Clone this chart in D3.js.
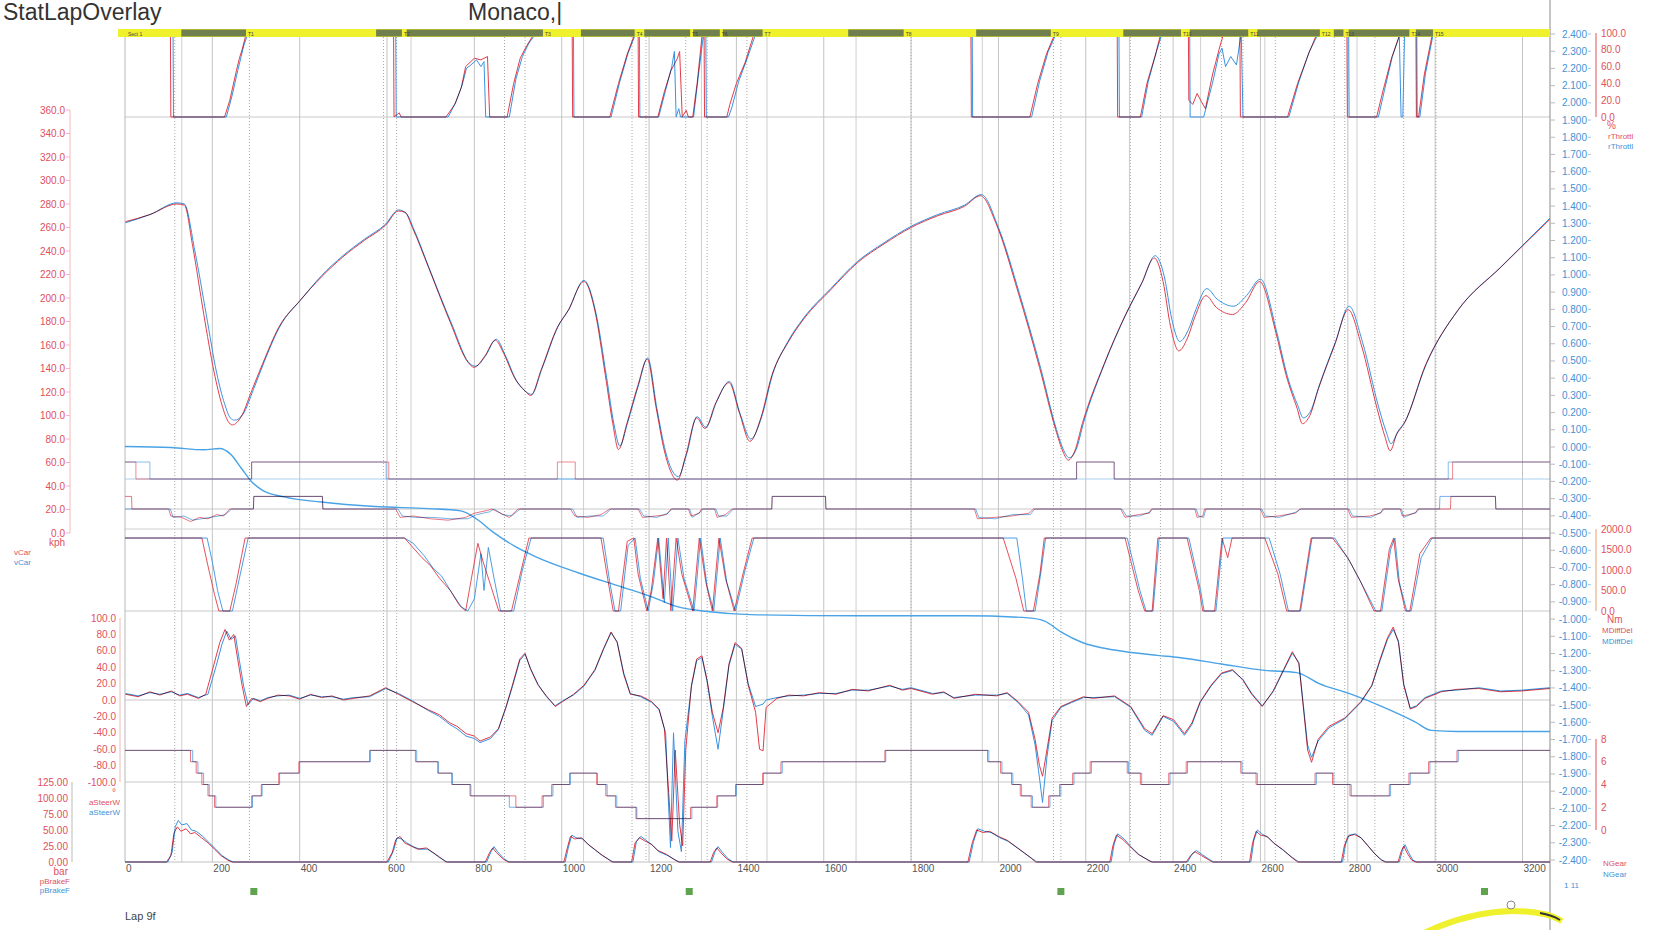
<!DOCTYPE html>
<html><head><meta charset="utf-8">
<script src="https://cdn.jsdelivr.net/npm/d3@7"></script>
<style>
body{margin:0;background:#fff;overflow:hidden}
svg{display:block;font-family:"Liberation Sans",Arial,sans-serif}
.blend{mix-blend-mode:multiply}
</style></head><body>
<svg id="c" width="1680" height="930"></svg>
<script>
// ---------- DATA ----------
const xTicks = [0,200,400,600,800,1000,1200,1400,1600,1800,2000,2200,2400,2600,2800,3000,3200];
const speedTicks = [0,20,40,60,80,100,120,140,160,180,200,220,240,260,280,300,320,340,360];
const steerTicks = [-100,-80,-60,-40,-20,0,20,40,60,80,100];
const brakeTicks = [0,25,50,75,100,125];
const thrTicks = [0,20,40,60,80,100];
const diffTicks = [0,500,1000,1500,2000];
const gearTicks = [0,2,4,6,8];

const speedRed = [[1,265],[57,271],[119,280],[136,279],[155,244],[180,187],[204,137],[222,109],[236,95],[246,92],[266,99],[290,121],[315,144],[352,175],[401,198],[450,218],[499,235],[548,249],[597,262],[626,274],[641,273],[658,260],[695,226],[744,180],[786,145],[799,141],[823,150],[848,164],[867,153],[892,132],[916,121],[929,117],[953,139],[990,175],[1014,189],[1051,214],[1076,189],[1100,134],[1117,93],[1130,71],[1149,93],[1174,125],[1196,148],[1216,107],[1235,70],[1250,52],[1265,45],[1284,66],[1309,98],[1328,89],[1353,111],[1383,128],[1407,102],[1431,78],[1456,98],[1481,134],[1518,162],[1554,182],[1616,207],[1677,230],[1738,246],[1800,260],[1861,270],[1922,278],[1959,287],[1996,262],[2045,205],[2094,141],[2131,88],[2148,69],[2160,62],[2175,70],[2192,93],[2241,143],[2290,185],[2327,212],[2357,234],[2377,214],[2394,176],[2413,155],[2433,166],[2450,184],[2475,202],[2499,192],[2536,186],[2566,196],[2598,214],[2635,171],[2659,134],[2684,106],[2696,93],[2713,100],[2733,123],[2770,160],[2801,190],[2831,160],[2867,106],[2885,82],[2897,70],[2912,84],[2929,93],[2978,143],[3051,189],[3150,226],[3263,267]];
const speedBlue = [[1,264],[57,271],[119,281],[136,280],[160,240],[186,186],[210,136],[228,110],[241,98],[251,96],[270,101],[294,122],[318,145],[355,176],[404,199],[450,219],[499,236],[548,250],[597,263],[626,275],[644,272],[662,258],[698,224],[748,178],[790,144],[803,142],[826,151],[850,165],[870,152],[896,130],[919,120],[931,118],[955,140],[992,176],[1016,190],[1051,215],[1078,188],[1103,132],[1120,92],[1133,74],[1151,94],[1176,126],[1197,149],[1218,106],[1238,69],[1253,53],[1267,48],[1286,67],[1310,99],[1330,90],[1355,112],[1384,129],[1409,101],[1433,80],[1458,99],[1483,135],[1518,163],[1554,183],[1616,208],[1677,231],[1738,247],[1800,261],[1861,271],[1922,279],[1961,288],[2000,260],[2048,204],[2097,140],[2133,88],[2150,70],[2162,64],[2178,71],[2195,94],[2243,144],[2292,186],[2329,213],[2359,236],[2380,218],[2397,182],[2415,163],[2435,173],[2452,190],[2477,208],[2501,199],[2538,193],[2568,202],[2600,216],[2638,170],[2662,133],[2686,108],[2698,98],[2715,104],[2735,126],[2772,163],[2803,193],[2834,162],[2870,108],[2888,86],[2899,76],[2914,86],[2931,95],[2980,144],[3053,190],[3152,227],[3263,268]];

const deltaBlue = [[0,0.003],[106,-0.003],[180,-0.016],[217,-0.009],[241,-0.04],[266,-0.122],[290,-0.202],[315,-0.252],[364,-0.29],[450,-0.32],[573,-0.346],[695,-0.358],[769,-0.371],[806,-0.42],[843,-0.495],[892,-0.576],[941,-0.638],[1039,-0.732],[1137,-0.813],[1211,-0.875],[1260,-0.925],[1334,-0.956],[1432,-0.974],[1677,-0.981],[1922,-0.981],[2069,-0.993],[2106,-1.012],[2143,-1.074],[2192,-1.136],[2266,-1.18],[2364,-1.211],[2413,-1.223],[2511,-1.261],[2609,-1.298],[2683,-1.311],[2733,-1.373],[2806,-1.435],[2880,-1.51],[2954,-1.597],[2991,-1.647],[3051,-1.653],[3263,-1.653]];

const thrRed = [[0,100],[104,100],[105,0],[228,0],[240,20],[255,55],[262,70],[268,80],[278,100],[615,100],[616,0],[628,5],[632,0],[735,0],[755,15],[770,35],[780,60],[790,65],[800,70],[815,68],[830,72],[835,0],[875,0],[890,40],[905,70],[920,85],[938,100],[1024,100],[1025,0],[1110,0],[1130,40],[1150,75],[1168,100],[1175,100],[1176,0],[1220,0],[1235,30],[1250,55],[1265,70],[1270,78],[1276,0],[1285,8],[1290,0],[1300,0],[1310,40],[1322,100],[1326,100],[1327,0],[1378,0],[1385,15],[1400,40],[1420,65],[1441,100],[1937,100],[1938,0],[2072,0],[2090,40],[2110,75],[2130,100],[2272,100],[2273,0],[2325,0],[2340,40],[2360,75],[2372,100],[2435,100],[2436,20],[2445,15],[2455,28],[2465,18],[2474,10],[2490,50],[2505,80],[2516,100],[2553,100],[2554,0],[2662,0],[2685,40],[2710,75],[2730,100],[2798,100],[2799,0],[2866,0],[2880,30],[2900,70],[2920,100],[2956,100],[2957,0],[2962,0],[2975,50],[2994,100],[3263,100]];
const thrBlue = [[0,100],[110,100],[111,0],[232,0],[245,25],[258,55],[266,72],[272,85],[282,100],[620,100],[621,0],[740,0],[758,18],[772,38],[782,58],[792,62],[805,68],[815,60],[822,66],[826,0],[880,0],[895,45],[910,72],[925,88],[942,100],[1027,100],[1028,0],[1113,0],[1133,42],[1152,76],[1170,100],[1178,100],[1179,0],[1222,0],[1238,32],[1252,60],[1258,78],[1262,0],[1268,10],[1272,0],[1302,0],[1312,45],[1325,100],[1330,100],[1331,0],[1382,0],[1390,12],[1405,42],[1425,70],[1445,100],[1940,100],[1941,0],[2076,0],[2094,42],[2114,78],[2133,100],[2276,100],[2277,0],[2328,0],[2343,42],[2362,78],[2375,100],[2438,100],[2439,0],[2470,0],[2490,40],[2505,75],[2512,82],[2520,60],[2532,72],[2545,62],[2556,100],[2560,0],[2665,0],[2688,42],[2712,78],[2733,100],[2802,100],[2803,0],[2870,0],[2884,32],[2902,72],[2918,96],[2922,0],[2926,0],[2930,100],[2958,100],[2959,0],[2965,0],[2978,52],[2996,100],[3263,100]];

const steerRed = [[1,7],[30,4],[57,10],[80,6],[106,11],[125,5],[143,7],[168,2],[185,7],[204,44],[217,70],[229,86],[239,73],[249,80],[258,50],[268,18],[278,-8],[290,2],[310,-2],[327,2],[350,6],[376,5],[400,1],[425,7],[450,3],[474,5],[500,0],[524,2],[560,5],[597,15],[626,7],[658,-2],[695,-12],[720,-18],[744,-28],[760,-32],[781,-41],[800,-44],[813,-50],[837,-45],[855,-35],[872,-9],[887,18],[904,50],[916,57],[929,37],[946,18],[965,5],[985,-8],[1002,-2],[1027,7],[1051,18],[1076,37],[1096,63],[1113,83],[1127,70],[1142,31],[1157,7],[1181,5],[1206,-2],[1223,-11],[1235,-35],[1245,-113],[1252,-172],[1260,-61],[1270,-152],[1277,-178],[1284,-61],[1297,18],[1309,50],[1321,54],[1333,24],[1345,-15],[1358,-40],[1370,-9],[1383,44],[1397,70],[1412,63],[1427,18],[1444,-15],[1453,-60],[1461,-62],[1468,-9],[1493,2],[1520,6],[1554,5],[1590,9],[1628,7],[1665,13],[1702,11],[1751,18],[1780,12],[1800,14],[1849,7],[1875,10],[1898,2],[1947,7],[1996,5],[2020,9],[2045,-2],[2069,-15],[2084,-48],[2094,-80],[2101,-93],[2111,-61],[2123,-22],[2143,-8],[2168,-2],[2195,4],[2217,2],[2266,5],[2303,-8],[2335,-35],[2352,-41],[2377,-19],[2401,-24],[2426,-41],[2443,-28],[2462,-2],[2487,18],[2511,33],[2536,37],[2560,24],[2580,7],[2604,-8],[2629,11],[2653,37],[2673,59],[2688,44],[2698,-8],[2708,-61],[2717,-76],[2732,-48],[2757,-32],[2793,-22],[2830,-2],[2855,18],[2874,50],[2891,76],[2904,89],[2916,70],[2928,18],[2943,-11],[2957,-8],[2977,2],[3014,10],[3050,13],[3100,14],[3150,10],[3198,11],[3263,14]];
const steerBlue = [[1,8],[30,5],[57,9],[80,7],[106,10],[125,6],[143,8],[168,3],[190,7],[209,42],[222,68],[233,84],[243,74],[253,78],[262,48],[272,16],[282,-6],[294,2],[310,-1],[327,3],[350,5],[376,6],[400,2],[425,6],[450,4],[474,4],[500,1],[524,3],[560,4],[597,14],[626,8],[658,-1],[695,-13],[720,-20],[744,-30],[760,-35],[781,-44],[800,-47],[813,-52],[837,-47],[855,-36],[872,-10],[887,16],[904,48],[916,56],[929,38],[946,19],[965,4],[985,-7],[1002,-1],[1027,6],[1051,17],[1076,36],[1096,62],[1113,82],[1127,71],[1142,33],[1157,8],[1181,4],[1206,-3],[1223,-12],[1238,-40],[1242,-95],[1249,-180],[1256,-40],[1266,-160],[1274,-185],[1282,-50],[1297,16],[1309,48],[1321,52],[1333,22],[1345,-20],[1358,-60],[1370,-12],[1383,42],[1397,68],[1412,62],[1427,20],[1444,-8],[1461,-5],[1468,0],[1493,3],[1520,5],[1554,6],[1590,8],[1628,8],[1665,12],[1702,12],[1751,17],[1780,13],[1800,15],[1849,8],[1875,9],[1898,3],[1947,6],[1996,6],[2020,8],[2045,-3],[2069,-18],[2084,-55],[2094,-95],[2101,-125],[2111,-70],[2123,-25],[2143,-9],[2168,-3],[2195,3],[2217,3],[2266,4],[2303,-9],[2335,-37],[2352,-43],[2377,-20],[2401,-26],[2426,-43],[2443,-30],[2462,-3],[2487,17],[2511,32],[2536,36],[2560,25],[2580,8],[2604,-7],[2629,10],[2653,36],[2673,57],[2688,46],[2698,-5],[2708,-55],[2717,-70],[2732,-50],[2757,-34],[2793,-23],[2830,-3],[2855,17],[2874,48],[2891,74],[2904,86],[2916,72],[2928,20],[2943,-10],[2957,-7],[2977,3],[3014,11],[3050,12],[3100,15],[3150,11],[3198,12],[3263,15]];

const diffRed = [[0,1780],[176,1780],[190,1100],[205,400],[215,0],[240,0],[255,700],[275,1780],[640,1780],[655,1600],[680,1300],[700,1100],[720,800],[745,500],[765,150],[780,0],[795,900],[808,1650],[820,1200],[838,600],[856,0],[885,0],[905,900],[925,1780],[1090,1780],[1105,800],[1118,0],[1130,0],[1150,1700],[1165,1780],[1175,900],[1195,0],[1205,500],[1220,1780],[1232,300],[1240,1780],[1250,0],[1262,1780],[1275,900],[1300,0],[1315,1780],[1330,700],[1345,0],[1360,1780],[1375,800],[1395,0],[1415,900],[1436,1780],[2011,1780],[2040,800],[2058,0],[2080,0],[2095,900],[2105,1780],[2290,1780],[2320,500],[2335,0],[2352,0],[2365,1780],[2432,1780],[2460,500],[2468,0],[2495,0],[2512,1780],[2525,1300],[2535,1780],[2610,1780],[2640,900],[2660,0],[2690,0],[2716,1780],[2765,1780],[2800,1300],[2830,700],[2860,0],[2875,0],[2895,1500],[2905,1780],[2915,800],[2932,0],[2942,0],[2965,1400],[2990,1780],[3263,1780]];
const diffBlue = [[0,1780],[188,1780],[200,1200],[212,500],[224,0],[246,0],[262,800],[282,1780],[640,1780],[660,1650],[685,1350],[705,1050],[725,850],[748,450],[770,100],[785,0],[800,300],[815,1400],[822,500],[832,1550],[845,800],[860,0],[890,0],[910,1000],[930,1780],[1095,1780],[1110,700],[1122,0],[1135,0],[1152,1600],[1168,1780],[1180,800],[1198,0],[1210,700],[1222,1780],[1235,200],[1244,1780],[1254,0],[1266,1780],[1280,800],[1303,0],[1318,1780],[1333,600],[1348,0],[1363,1780],[1378,700],[1398,0],[1420,1000],[1440,1780],[2042,1780],[2055,800],[2064,0],[2084,0],[2098,1000],[2108,1780],[2295,1780],[2324,500],[2338,0],[2354,0],[2368,1780],[2436,1780],[2463,500],[2471,0],[2498,0],[2514,1780],[2620,1780],[2645,900],[2664,0],[2692,0],[2718,1780],[2770,1780],[2805,1200],[2835,600],[2864,0],[2878,0],[2898,1500],[2908,1780],[2918,700],[2935,0],[2945,0],[2968,1300],[2993,1780],[3263,1780]];

const gearRed = [[0,7],[150,6],[163,5],[176,4],[190,3],[205,2],[290,3],[312,4],[352,5],[398,6],[560,7],[665,6],[716,5],[748,4],[790,3],[895,2],[955,3],[977,4],[1018,5],[1080,4],[1101,3],[1123,2],[1170,1],[1295,2],[1355,3],[1398,4],[1460,5],[1502,6],[1740,7],[1975,6],[2005,5],[2030,4],[2050,3],[2075,2],[2115,3],[2140,4],[2170,5],[2210,6],[2295,5],[2325,4],[2390,5],[2430,6],[2555,5],[2590,4],[2725,5],[2765,4],[2805,3],[2895,4],[2940,5],[2985,6],[3050,7],[3263,7]];
const gearBlue = [[0,7],[155,6],[167,5],[180,4],[193,3],[208,2],[292,3],[314,4],[354,5],[400,6],[562,7],[668,6],[718,5],[750,4],[792,3],[880,2],[958,3],[980,4],[1020,5],[1082,4],[1104,3],[1126,2],[1172,1],[1298,2],[1357,3],[1400,4],[1462,5],[1505,6],[1742,7],[1978,6],[2008,5],[2033,4],[2053,3],[2078,2],[2118,3],[2143,4],[2173,5],[2213,6],[2298,5],[2328,4],[2393,5],[2433,6],[2558,5],[2593,4],[2728,5],[2768,4],[2808,3],[2898,4],[2943,5],[2988,6],[3053,7],[3263,7]];

const brakeRed = [[0,0],[95,0],[105,10],[112,45],[120,55],[128,48],[140,52],[150,44],[160,46],[175,38],[190,30],[205,20],[220,10],[235,3],[245,0],[600,0],[612,15],[620,35],[630,40],[640,30],[655,25],[670,20],[690,22],[705,15],[720,8],[735,0],[825,0],[835,15],[842,22],[850,15],[865,5],[877,0],[1005,0],[1012,20],[1020,40],[1030,36],[1045,38],[1060,28],[1075,20],[1090,12],[1105,5],[1115,0],[1160,0],[1168,30],[1178,38],[1190,33],[1205,28],[1220,18],[1240,12],[1255,5],[1267,0],[1340,0],[1348,15],[1355,22],[1365,14],[1378,5],[1390,0],[1930,0],[1940,30],[1950,50],[1965,46],[1980,48],[2000,40],[2020,34],[2040,24],[2060,14],[2075,6],[2085,0],[2255,0],[2262,25],[2270,42],[2285,35],[2300,25],[2320,12],[2340,4],[2350,0],[2430,0],[2440,10],[2450,16],[2465,10],[2480,4],[2490,0],[2575,0],[2582,30],[2590,48],[2600,42],[2615,40],[2630,30],[2650,20],[2670,8],[2685,0],[2785,0],[2792,25],[2800,40],[2815,43],[2830,38],[2845,26],[2860,14],[2875,4],[2885,0],[2915,0],[2922,16],[2928,25],[2936,14],[2946,3],[2955,0],[3263,0]];
const brakeBlue = [[0,0],[98,0],[108,15],[115,55],[122,65],[130,58],[142,60],[152,50],[163,48],[178,40],[193,30],[208,20],[222,10],[238,3],[248,0],[603,0],[615,18],[623,38],[633,36],[645,30],[660,24],[675,20],[693,20],[708,13],[722,6],[738,0],[828,0],[838,16],[845,24],[853,16],[868,5],[880,0],[1008,0],[1015,22],[1023,42],[1033,38],[1048,36],[1063,26],[1078,18],[1093,10],[1108,4],[1118,0],[1163,0],[1171,32],[1181,40],[1193,34],[1208,26],[1223,16],[1243,10],[1258,4],[1270,0],[1343,0],[1351,16],[1358,24],[1368,15],[1381,5],[1393,0],[1933,0],[1943,32],[1953,52],[1968,48],[1983,46],[2003,38],[2023,32],[2043,22],[2063,12],[2078,5],[2088,0],[2258,0],[2265,28],[2273,44],[2288,36],[2303,24],[2323,11],[2343,3],[2353,0],[2433,0],[2443,12],[2453,18],[2468,11],[2483,4],[2493,0],[2578,0],[2585,34],[2593,50],[2603,44],[2618,38],[2633,28],[2653,18],[2673,7],[2688,0],[2788,0],[2795,28],[2803,42],[2818,44],[2833,36],[2848,24],[2863,12],[2878,3],[2888,0],[2918,0],[2925,18],[2931,27],[2939,15],[2949,3],[2958,0],[3263,0]];

const flagRed = [[0,1],[25,0],[290,1],[604,0],[990,1],[1031,0],[2179,1],[2265,0],[3040,1],[3263,1]];
const flagBlue = [[0,1],[57,0],[290,1],[598,0],[2179,1],[2265,0],[3030,1],[3263,1]];

const latRed = [[0,0.9],[15,0.9],[16,0],[100,0],[105,-0.5],[130,-0.6],[150,-0.9],[170,-0.6],[190,-0.7],[210,-0.4],[225,-0.5],[240,0],[294,0],[295,0.9],[452,0.9],[453,0],[620,0],[630,-0.6],[660,-0.5],[700,-0.7],[740,-0.8],[780,-0.6],[800,-0.3],[830,-0.1],[840,0],[860,-0.3],[880,-0.6],[900,0],[1020,0],[1030,-0.5],[1060,-0.6],[1090,-0.4],[1110,0],[1175,0],[1185,-0.6],[1215,-0.5],[1240,-0.4],[1250,0],[1290,0],[1296,-0.5],[1315,-0.3],[1320,0],[1350,0],[1356,-0.6],[1375,-0.4],[1390,0],[1481,0],[1482,0.9],[1604,0.9],[1605,0],[1945,0],[1952,-0.7],[1990,-0.6],[2030,-0.5],[2070,-0.3],[2080,0],[2280,0],[2290,-0.6],[2320,-0.4],[2345,-0.3],[2350,0],[2450,0],[2455,-0.6],[2468,-0.5],[2472,0],[2600,0],[2608,-0.6],[2640,-0.5],[2680,-0.3],[2690,0],[2800,0],[2808,-0.6],[2850,-0.5],[2875,-0.3],[2880,0],[2920,0],[2925,-0.5],[2955,-0.3],[2960,0],[3035,0],[3036,0.9],[3138,0.9],[3139,0],[3263,0]];
const latBlue = [[0,0],[104,0],[110,-0.6],[135,-0.5],[155,-0.8],[175,-0.7],[195,-0.6],[215,-0.5],[230,-0.4],[244,0],[294,0],[295,0.9],[452,0.9],[453,0],[625,0],[635,-0.5],[665,-0.6],[705,-0.6],[745,-0.7],[785,-0.7],[805,-0.4],[835,-0.2],[845,0],[865,-0.4],[885,-0.5],[905,0],[1025,0],[1035,-0.6],[1065,-0.5],[1095,-0.5],[1113,0],[1178,0],[1188,-0.5],[1218,-0.6],[1243,-0.3],[1253,0],[1293,0],[1299,-0.6],[1318,-0.2],[1323,0],[1353,0],[1359,-0.5],[1378,-0.5],[1393,0],[1481,0],[1482,0.9],[1604,0.9],[1605,0],[1948,0],[1955,-0.6],[1993,-0.7],[2033,-0.4],[2073,-0.4],[2083,0],[2283,0],[2293,-0.5],[2323,-0.5],[2348,-0.2],[2353,0],[2453,0],[2458,-0.5],[2470,-0.6],[2475,0],[2603,0],[2611,-0.5],[2643,-0.6],[2683,-0.2],[2693,0],[2803,0],[2811,-0.5],[2853,-0.6],[2878,-0.2],[2883,0],[2923,0],[2928,-0.6],[2958,-0.2],[2963,0],[3010,0],[3011,0.9],[3138,0.9],[3139,0],[3263,0]];

const sectionLines = [130,655,1050,1320,1470,1674,1963,2300,2463,2610,2821];
const markerLines = [114,285,592,622,869,916,1161,1193,1284,1333,1424,1800,2126,2143,2302,2371,2511,2560,2634,2769,2793,2862,2928,3002];
const turnSegments = [[129,277],[575,634],[645,957],[1044,1167],[1189,1294],[1301,1362],[1369,1460],[1656,1783],[1949,2120],[2286,2418],[2438,2572],[2593,2736],[2768,2790],[2802,2941],[2956,2995]];
const turnLabels = ["T1","T2","T3","T4","T5","T6","T7","T8","T9","T10","T11","T12","T13","T14","T15"];
const greenMarks = [295,1292,2143,3113];

// ---------- SCALES ----------
const x = d3.scaleLinear().domain([0,3263]).range([125,1550]);
const ySpeed = d3.scaleLinear().domain([0,360]).range([533,110]);
const yThr = d3.scaleLinear().domain([0,100]).range([117,33]);
const yDelta = d3.scaleLinear().domain([-2.4,2.4]).range([860,34]);
const yFlag = d3.scaleLinear().domain([0,1]).range([479,462]);
const yLat = d3.scaleLinear().domain([-1,1]).range([523,495]);
const yDiff = d3.scaleLinear().domain([0,2000]).range([611,529]);
const ySteer = d3.scaleLinear().domain([-100,100]).range([782,618]);
const yGear = d3.scaleLinear().domain([0,8]).range([830,739]);
const yBrake = d3.scaleLinear().domain([0,125]).range([862,782]);

const RED = "#e23c4a", BLUE = "#3a92e0", LRED = "#e0505c", LBLUE = "#4592d6";
const svg = d3.select("#c");
svg.append("rect").attr("width",1680).attr("height",930).attr("fill","#fff");

// ---------- GRID ----------
const grid = svg.append("g");
grid.selectAll(".vg").data(xTicks.slice(1)).join("line")
  .attr("x1",d=>x(d)).attr("x2",d=>x(d)).attr("y1",37).attr("y2",862)
  .attr("stroke","#c4c4c4").attr("stroke-width",1);
grid.selectAll(".sl").data(sectionLines).join("line")
  .attr("x1",d=>x(d)).attr("x2",d=>x(d)).attr("y1",37).attr("y2",862)
  .attr("stroke","#cfcfcf").attr("stroke-width",1);
grid.selectAll(".ml").data(markerLines).join("line")
  .attr("x1",d=>x(d)).attr("x2",d=>x(d)).attr("y1",37).attr("y2",862)
  .attr("stroke","#a9a9a9").attr("stroke-width",1).attr("stroke-dasharray","1,2");
const hLines = [[yThr(0),"#c8c8c8"],[yFlag(0),"#a9d0ef"],[yLat(0),"#c8c8c8"],[yDiff(2000),"#cfcfcf"],[yDiff(0),"#c8c8c8"],[ySteer(0),"#c8c8c8"],[ySteer(-100),"#c8c8c8"],[yBrake(0),"#c0c0c0"]];
grid.selectAll(".hl").data(hLines).join("line")
  .attr("x1",125).attr("x2",1550).attr("y1",d=>d[0]).attr("y2",d=>d[0])
  .attr("stroke",d=>d[1]).attr("stroke-width",1);
grid.append("line").attr("x1",125).attr("x2",125).attr("y1",30).attr("y2",862).attr("stroke","#b8b8b8");
svg.append("line").attr("x1",1550).attr("x2",1550).attr("y1",0).attr("y2",930).attr("stroke","#8a8a8a");

// ---------- LINES ----------
const plot = svg.append("g").style("isolation","isolate");
function draw(data, ys, color, curve, w, cls, op){
  plot.append("path").datum(data)
    .attr("class",cls||"")
    .attr("fill","none").attr("stroke",color).attr("stroke-width",w||1)
    .attr("stroke-opacity",op||1)
    .attr("stroke-linejoin","round")
    .attr("d", d3.line().x(d=>x(d[0])).y(d=>ys(d[1])).curve(curve||d3.curveLinear));
}
const pairs = [
  [thrRed,thrBlue,yThr,d3.curveLinear,1],
  [speedRed,speedBlue,ySpeed,d3.curveMonotoneX,1],
  [flagRed,flagBlue,yFlag,d3.curveStepAfter,0.6],
  [latRed,latBlue,yLat,d3.curveLinear,0.7],
  [diffRed,diffBlue,yDiff,d3.curveLinear,0.9],
  [steerRed,steerBlue,ySteer,d3.curveLinear,1],
  [gearRed,gearBlue,yGear,d3.curveStepAfter,0.7],
  [brakeRed,brakeBlue,yBrake,d3.curveLinear,1]
];
pairs.forEach(p=>draw(p[0],p[2],RED,p[3],1,"",p[4]));
pairs.forEach(p=>draw(p[1],p[2],BLUE,p[3],1,"blend",p[4]));
draw(deltaBlue,yDelta,"#4aa3e6",d3.curveMonotoneX,1.4,"blend");

// ---------- TOP BAR ----------
const bar = svg.append("g");
bar.append("rect").attr("x",118).attr("y",29).attr("width",1432).attr("height",8).attr("fill","#eef12c");
bar.selectAll(".seg").data(turnSegments).join("rect")
  .attr("x",d=>x(d[0])).attr("y",29.5).attr("width",d=>x(d[1])-x(d[0])).attr("height",7)
  .attr("fill","#6f7f4d");
bar.selectAll(".tl").data(turnSegments).join("text")
  .attr("x",d=>x(d[1])+2).attr("y",35.5).attr("font-size",5).attr("fill","#444")
  .text((d,i)=>turnLabels[i]);
bar.append("text").attr("x",128).attr("y",35.5).attr("font-size",5).attr("fill","#444").text("Sect 1");

// ---------- AXES TEXT ----------
const T = svg.append("g").attr("font-size",10);
// speed
T.append("line").attr("x1",70).attr("x2",70).attr("y1",ySpeed(360)).attr("y2",ySpeed(0)).attr("stroke","#f0b8bc");
T.selectAll(".sp").data(speedTicks).join("text")
  .attr("x",65).attr("y",d=>ySpeed(d)+3.5).attr("text-anchor","end").attr("fill",LRED).text(d=>d.toFixed(1));
T.selectAll(".spt").data(speedTicks).join("line")
  .attr("x1",66).attr("x2",70).attr("y1",d=>ySpeed(d)).attr("y2",d=>ySpeed(d)).attr("stroke","#f0b8bc");
T.append("text").attr("x",65).attr("y",546).attr("text-anchor","end").attr("fill",LRED).text("kph");
T.append("text").attr("x",14).attr("y",555).attr("font-size",8).attr("fill",LRED).text("vCar");
T.append("text").attr("x",14).attr("y",565).attr("font-size",8).attr("fill",LBLUE).text("vCar");
// steer
T.append("line").attr("x1",120).attr("x2",120).attr("y1",ySteer(100)).attr("y2",ySteer(-100)).attr("stroke","#f0b8bc");
T.selectAll(".st").data(steerTicks).join("text")
  .attr("x",116).attr("y",d=>ySteer(d)+3.5).attr("text-anchor","end").attr("fill",LRED).text(d=>d.toFixed(1));
T.append("text").attr("x",116).attr("y",796).attr("text-anchor","end").attr("fill",LRED).text("°");
T.append("text").attr("x",120).attr("y",805).attr("font-size",8).attr("text-anchor","end").attr("fill",LRED).text("aSteerW");
T.append("text").attr("x",120).attr("y",815).attr("font-size",8).attr("text-anchor","end").attr("fill",LBLUE).text("aSteerW");
// brake
T.append("line").attr("x1",72).attr("x2",72).attr("y1",yBrake(125)).attr("y2",yBrake(0)).attr("stroke","#bbbbbb");
T.selectAll(".br").data(brakeTicks).join("text")
  .attr("x",68).attr("y",d=>yBrake(d)+3.5).attr("text-anchor","end").attr("fill",LRED).text(d=>d.toFixed(2));
T.append("text").attr("x",68).attr("y",875).attr("text-anchor","end").attr("fill",LRED).text("bar");
T.append("text").attr("x",70).attr("y",884).attr("font-size",8).attr("text-anchor","end").attr("fill",LRED).text("pBrakeF");
T.append("text").attr("x",70).attr("y",893).attr("font-size",8).attr("text-anchor","end").attr("fill",LBLUE).text("pBrakeF");
// right delta axis
const dTicks = d3.range(-24,25).map(i=>i/10);
T.selectAll(".dt").data(dTicks).join("text")
  .attr("x",1587).attr("y",d=>yDelta(d)+3.5).attr("text-anchor","end").attr("fill",LBLUE)
  .text(d=>(d<0?"-":"")+Math.abs(d).toFixed(3));
T.selectAll(".dtt").data(dTicks).join("line")
  .attr("x1",1588).attr("x2",1591).attr("y1",d=>yDelta(d)).attr("y2",d=>yDelta(d)).attr("stroke","#9cc7ec");
T.selectAll(".rbt").data(dTicks).join("line")
  .attr("x1",1550).attr("x2",1555).attr("y1",d=>yDelta(d)).attr("y2",d=>yDelta(d)).attr("stroke","#bbbbbb");
// throttle axis
T.append("line").attr("x1",1596).attr("x2",1596).attr("y1",yThr(100)).attr("y2",yThr(0)).attr("stroke",LRED);
T.selectAll(".th").data(thrTicks).join("text")
  .attr("x",1601).attr("y",d=>yThr(d)+3.5).attr("fill",LRED).text(d=>d.toFixed(1));
T.append("text").attr("x",1607).attr("y",129).attr("fill",LRED).text("%");
T.append("text").attr("x",1608).attr("y",139).attr("font-size",8).attr("fill",LRED).text("rThrottl");
T.append("text").attr("x",1608).attr("y",149).attr("font-size",8).attr("fill",LBLUE).text("rThrottl");
// diff axis
T.append("line").attr("x1",1596).attr("x2",1596).attr("y1",yDiff(2000)).attr("y2",yDiff(0)).attr("stroke","#e8a070");
T.selectAll(".df").data(diffTicks).join("text")
  .attr("x",1601).attr("y",d=>yDiff(d)+3.5).attr("fill",LRED).text(d=>d.toFixed(1));
T.append("text").attr("x",1607).attr("y",623).attr("fill",LRED).text("Nm");
T.append("text").attr("x",1602).attr("y",633).attr("font-size",8).attr("fill",LRED).text("MDiffDel");
T.append("text").attr("x",1602).attr("y",644).attr("font-size",8).attr("fill",LBLUE).text("MDiffDel");
// gear axis
T.append("line").attr("x1",1596).attr("x2",1596).attr("y1",yGear(8)).attr("y2",yGear(0)).attr("stroke",LRED);
T.selectAll(".gr").data(gearTicks).join("text")
  .attr("x",1601).attr("y",d=>yGear(d)+3.5).attr("fill",LRED).text(d=>d);
T.append("text").attr("x",1603).attr("y",866).attr("font-size",8).attr("fill",LRED).text("NGear");
T.append("text").attr("x",1603).attr("y",877).attr("font-size",8).attr("fill",LBLUE).text("NGear");
T.append("text").attr("x",1564).attr("y",888).attr("font-size",8).attr("fill",LBLUE).text("1   11");
// x axis
T.selectAll(".xt").data(xTicks).join("text")
  .attr("x",d=>x(d)+1).attr("y",872).attr("fill","#555").text(d=>d);

// green markers
svg.selectAll(".gm").data(greenMarks).join("rect")
  .attr("x",d=>x(d)-3.5).attr("y",888).attr("width",7).attr("height",7).attr("fill","#5fa34e");

// titles (kept fully visible, just above the plot)
svg.append("text").attr("x",3).attr("y",20).attr("font-size",23).attr("fill","#333").text("StatLapOverlay");
svg.append("text").attr("x",468).attr("y",20).attr("font-size",23).attr("fill","#333").text("Monaco,|");
svg.append("text").attr("x",125).attr("y",920).attr("font-size",11).attr("fill","#444").text("Lap 9f");

// bottom-right track fragment
svg.append("path").attr("d","M1418,936 Q1465,912 1512,911 Q1545,911 1562,921")
  .attr("fill","none").attr("stroke","#eef12c").attr("stroke-width",6);
svg.append("path").attr("d","M1540,913 Q1552,915 1560,920")
  .attr("fill","none").attr("stroke","#333").attr("stroke-width",2);
svg.append("circle").attr("cx",1511).attr("cy",905).attr("r",4).attr("fill","#fff").attr("stroke","#888");
</script>
</body></html>
